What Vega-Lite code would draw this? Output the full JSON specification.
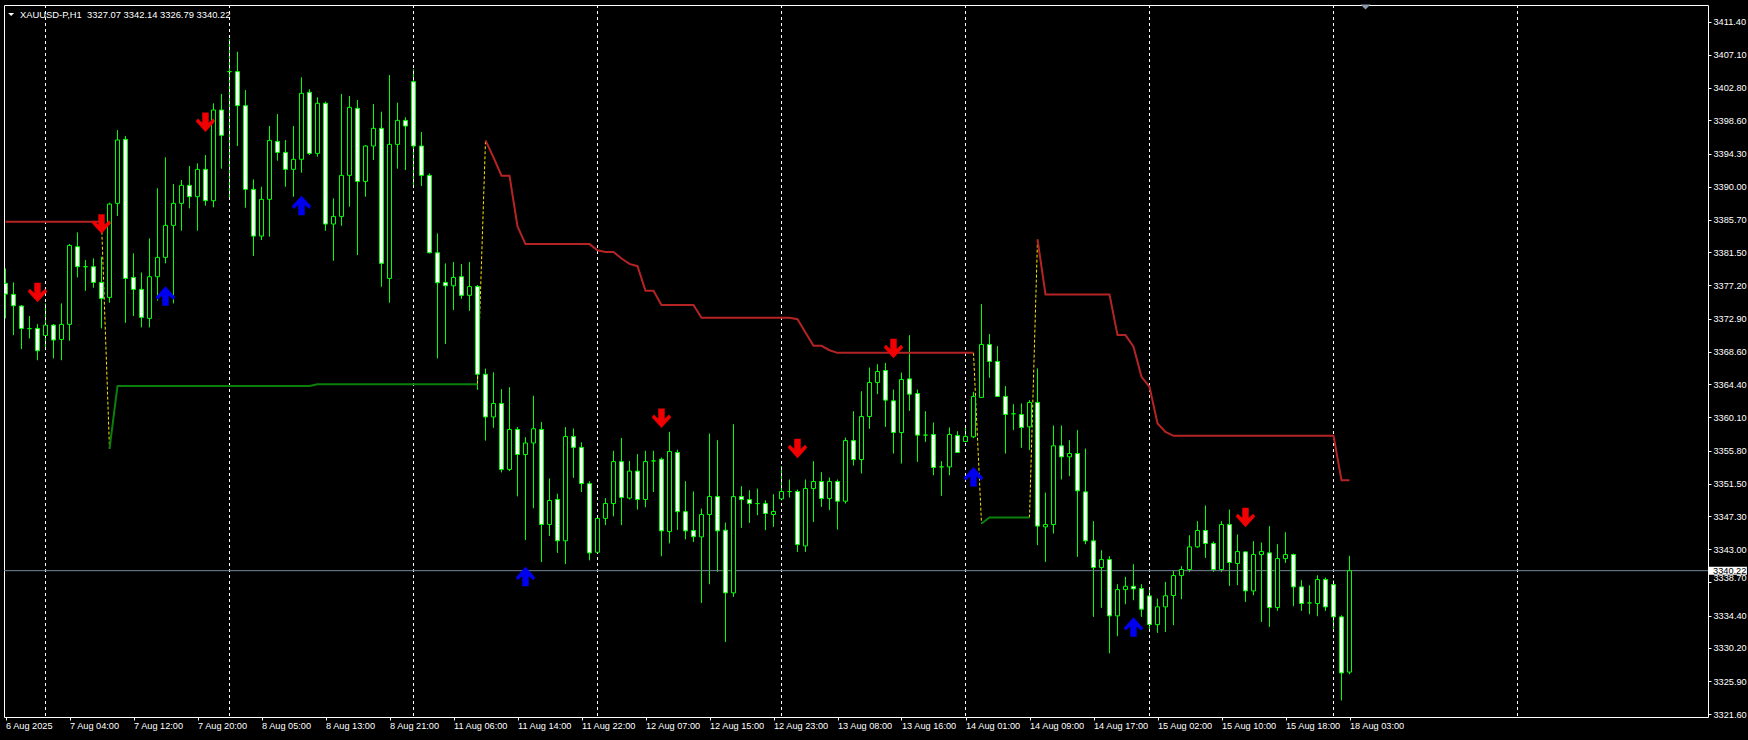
{
  "$schema": "https://vega.github.io/schema/vega-lite/v6.json",
  "width": 1704,
  "height": 712,
  "autosize": {"type": "none"},
  "padding": {"left": 4, "top": 5, "right": 40, "bottom": 23},
  "background": "#000000",
  "config": {"view": {"stroke": "#FFFFFF", "strokeWidth": 1}, "font": "Liberation Sans"},
  "title": {"text": "XAUUSD-P,H1\u00a0 3327.07 3342.14 3326.79 3340.22", "anchor": "start", "frame": "group", "orient": "top", "offset": 0, "dx": 16, "dy": 20, "baseline": "middle", "color": "#FFFFFF", "font": "Liberation Sans", "fontSize": 9.4, "fontWeight": "normal"},
  "resolve": {"axis": {"x": "independent", "y": "independent"}},
  "datasets": {
    "bars": [
      {"i":0,"o":3377.47,"h":3379.41,"l":3372.92,"c":3376.08},
      {"i":1,"o":3376.04,"h":3377.59,"l":3370.76,"c":3374.57},
      {"i":2,"o":3374.53,"h":3374.66,"l":3368.95,"c":3371.63},
      {"i":3,"o":3371.6,"h":3373.23,"l":3370.33,"c":3371.6},
      {"i":4,"o":3371.63,"h":3372.19,"l":3367.5,"c":3368.73},
      {"i":5,"o":3370.72,"h":3374.87,"l":3368.82,"c":3372.06},
      {"i":6,"o":3372.06,"h":3372.2,"l":3367.74,"c":3370.12},
      {"i":7,"o":3370.2,"h":3374.87,"l":3367.5,"c":3372.15},
      {"i":8,"o":3372.15,"h":3382.57,"l":3370.03,"c":3382.39},
      {"i":9,"o":3382.22,"h":3384.08,"l":3378.24,"c":3379.63},
      {"i":10,"o":3379.63,"h":3380.49,"l":3376.51,"c":3379.63},
      {"i":11,"o":3379.63,"h":3380.71,"l":3376.9,"c":3377.59},
      {"i":12,"o":3377.59,"h":3380.92,"l":3371.63,"c":3375.52},
      {"i":13,"o":3375.65,"h":3387.93,"l":3374.96,"c":3387.75},
      {"i":14,"o":3387.84,"h":3397.35,"l":3386.2,"c":3396.06},
      {"i":15,"o":3396.14,"h":3396.57,"l":3372.36,"c":3378.11},
      {"i":16,"o":3378.24,"h":3381.36,"l":3373.23,"c":3376.69},
      {"i":17,"o":3376.69,"h":3378.89,"l":3371.76,"c":3373.06},
      {"i":18,"o":3372.93,"h":3383.3,"l":3371.76,"c":3378.33},
      {"i":19,"o":3378.33,"h":3389.79,"l":3375.22,"c":3380.84},
      {"i":20,"o":3380.84,"h":3393.81,"l":3380.06,"c":3384.99},
      {"i":21,"o":3384.99,"h":3390.35,"l":3374.87,"c":3387.84},
      {"i":22,"o":3387.84,"h":3390.87,"l":3384.3,"c":3390.18},
      {"i":23,"o":3390.18,"h":3392.68,"l":3387.19,"c":3388.71},
      {"i":24,"o":3388.71,"h":3393.03,"l":3384.3,"c":3392.25},
      {"i":25,"o":3392.25,"h":3394.11,"l":3387.54,"c":3388.19},
      {"i":26,"o":3388.19,"h":3400.81,"l":3387.32,"c":3399.95},
      {"i":27,"o":3399.95,"h":3402.02,"l":3392.34,"c":3396.66},
      {"i":28,"o":3404.92,"h":3409.16,"l":3388.45,"c":3404.92},
      {"i":29,"o":3404.92,"h":3407.51,"l":3395.28,"c":3400.51},
      {"i":30,"o":3400.51,"h":3402.54,"l":3387.28,"c":3389.66},
      {"i":31,"o":3389.66,"h":3390.95,"l":3381.01,"c":3383.6},
      {"i":32,"o":3383.6,"h":3390.0,"l":3383.08,"c":3388.36},
      {"i":33,"o":3388.36,"h":3397.87,"l":3383.52,"c":3396.01},
      {"i":34,"o":3395.88,"h":3399.43,"l":3393.37,"c":3394.45},
      {"i":35,"o":3394.45,"h":3396.05,"l":3390.0,"c":3392.25},
      {"i":36,"o":3392.25,"h":3397.87,"l":3388.7,"c":3393.55},
      {"i":37,"o":3393.55,"h":3404.18,"l":3391.82,"c":3402.11},
      {"i":38,"o":3402.24,"h":3402.63,"l":3394.11,"c":3394.32},
      {"i":39,"o":3394.32,"h":3401.59,"l":3393.89,"c":3400.81},
      {"i":40,"o":3400.81,"h":3401.03,"l":3384.29,"c":3385.16},
      {"i":41,"o":3385.16,"h":3388.49,"l":3380.4,"c":3386.15},
      {"i":42,"o":3386.15,"h":3402.02,"l":3384.94,"c":3391.47},
      {"i":43,"o":3391.47,"h":3401.76,"l":3387.41,"c":3400.29},
      {"i":44,"o":3400.16,"h":3401.24,"l":3381.14,"c":3390.69},
      {"i":45,"o":3390.69,"h":3395.4,"l":3388.7,"c":3395.28},
      {"i":46,"o":3395.28,"h":3400.72,"l":3393.46,"c":3397.57},
      {"i":47,"o":3397.57,"h":3399.73,"l":3377.03,"c":3380.06},
      {"i":48,"o":3378.11,"h":3404.48,"l":3374.96,"c":3395.49},
      {"i":49,"o":3395.49,"h":3400.9,"l":3392.34,"c":3398.6},
      {"i":50,"o":3398.6,"h":3399.0,"l":3392.16,"c":3397.87},
      {"i":51,"o":3403.62,"h":3405.22,"l":3390.0,"c":3395.28},
      {"i":52,"o":3395.28,"h":3397.09,"l":3390.09,"c":3391.47},
      {"i":53,"o":3391.47,"h":3391.73,"l":3381.36,"c":3381.44},
      {"i":54,"o":3381.44,"h":3383.95,"l":3367.74,"c":3377.55},
      {"i":55,"o":3377.59,"h":3380.06,"l":3369.6,"c":3377.16},
      {"i":56,"o":3377.16,"h":3380.23,"l":3374.0,"c":3378.24},
      {"i":57,"o":3378.33,"h":3379.97,"l":3375.47,"c":3375.91},
      {"i":58,"o":3375.91,"h":3380.23,"l":3373.9,"c":3377.05},
      {"i":59,"o":3377.08,"h":3377.25,"l":3363.66,"c":3365.68},
      {"i":60,"o":3365.68,"h":3366.42,"l":3357.08,"c":3360.15},
      {"i":61,"o":3360.15,"h":3365.94,"l":3358.75,"c":3361.9},
      {"i":62,"o":3361.9,"h":3363.75,"l":3352.96,"c":3353.35},
      {"i":63,"o":3353.35,"h":3364.01,"l":3353.13,"c":3358.53},
      {"i":64,"o":3358.53,"h":3358.84,"l":3349.85,"c":3355.28},
      {"i":65,"o":3355.28,"h":3357.52,"l":3344.19,"c":3356.77},
      {"i":66,"o":3356.77,"h":3362.91,"l":3348.31,"c":3358.62},
      {"i":67,"o":3358.53,"h":3359.49,"l":3341.34,"c":3346.21},
      {"i":68,"o":3346.21,"h":3352.17,"l":3344.72,"c":3349.32},
      {"i":69,"o":3349.45,"h":3350.2,"l":3342.52,"c":3344.1},
      {"i":70,"o":3344.1,"h":3358.84,"l":3341.08,"c":3357.61},
      {"i":71,"o":3357.61,"h":3358.66,"l":3352.26,"c":3356.2},
      {"i":72,"o":3356.2,"h":3356.86,"l":3350.42,"c":3351.51},
      {"i":73,"o":3351.51,"h":3351.82,"l":3341.56,"c":3342.52},
      {"i":74,"o":3342.61,"h":3347.0,"l":3342.4,"c":3347.0},
      {"i":75,"o":3347.0,"h":3349.63,"l":3346.12,"c":3348.93},
      {"i":76,"o":3348.93,"h":3355.77,"l":3347.26,"c":3354.36},
      {"i":77,"o":3354.36,"h":3357.43,"l":3346.12,"c":3349.72},
      {"i":78,"o":3349.63,"h":3354.45,"l":3349.45,"c":3353.13},
      {"i":79,"o":3353.13,"h":3355.33,"l":3348.14,"c":3349.45},
      {"i":80,"o":3349.45,"h":3355.77,"l":3348.44,"c":3354.36},
      {"i":81,"o":3354.45,"h":3355.77,"l":3350.42,"c":3354.45},
      {"i":82,"o":3354.67,"h":3354.89,"l":3342.09,"c":3345.38},
      {"i":83,"o":3345.29,"h":3358.22,"l":3343.75,"c":3355.68},
      {"i":84,"o":3355.55,"h":3355.9,"l":3345.51,"c":3347.87},
      {"i":85,"o":3347.87,"h":3351.82,"l":3344.28,"c":3345.38},
      {"i":86,"o":3345.42,"h":3350.5,"l":3343.93,"c":3344.63},
      {"i":87,"o":3344.6,"h":3348.27,"l":3336.04,"c":3347.5},
      {"i":88,"o":3347.5,"h":3358.0,"l":3338.46,"c":3349.83},
      {"i":89,"o":3349.83,"h":3357.14,"l":3340.06,"c":3345.38},
      {"i":90,"o":3345.47,"h":3346.46,"l":3330.98,"c":3337.34},
      {"i":91,"o":3337.34,"h":3359.21,"l":3336.82,"c":3349.83},
      {"i":92,"o":3349.83,"h":3351.17,"l":3345.77,"c":3349.44},
      {"i":93,"o":3349.44,"h":3350.65,"l":3346.42,"c":3348.92},
      {"i":94,"o":3348.92,"h":3350.87,"l":3347.41,"c":3348.92},
      {"i":95,"o":3348.92,"h":3349.35,"l":3345.47,"c":3347.63},
      {"i":96,"o":3347.5,"h":3350.13,"l":3345.9,"c":3347.89},
      {"i":97,"o":3349.53,"h":3353.76,"l":3349.35,"c":3350.48},
      {"i":98,"o":3350.48,"h":3352.04,"l":3349.7,"c":3350.48},
      {"i":99,"o":3350.48,"h":3350.74,"l":3342.65,"c":3343.6},
      {"i":100,"o":3343.43,"h":3352.04,"l":3342.65,"c":3350.87},
      {"i":101,"o":3350.87,"h":3354.41,"l":3346.54,"c":3351.78},
      {"i":102,"o":3351.78,"h":3352.99,"l":3348.49,"c":3349.57},
      {"i":103,"o":3349.57,"h":3352.3,"l":3348.06,"c":3351.78},
      {"i":104,"o":3351.78,"h":3352.04,"l":3345.55,"c":3349.22},
      {"i":105,"o":3349.22,"h":3357.48,"l":3348.92,"c":3357.09},
      {"i":106,"o":3357.09,"h":3360.9,"l":3353.85,"c":3354.63},
      {"i":107,"o":3354.63,"h":3363.49,"l":3352.82,"c":3360.21},
      {"i":108,"o":3360.21,"h":3366.56,"l":3358.61,"c":3364.62},
      {"i":109,"o":3364.62,"h":3366.99,"l":3363.1,"c":3366.04},
      {"i":110,"o":3366.17,"h":3367.17,"l":3358.87,"c":3362.33},
      {"i":111,"o":3362.24,"h":3363.71,"l":3355.41,"c":3358.13},
      {"i":112,"o":3358.13,"h":3365.91,"l":3354.11,"c":3365.0},
      {"i":113,"o":3365.09,"h":3370.76,"l":3360.94,"c":3363.1},
      {"i":114,"o":3363.19,"h":3363.71,"l":3354.33,"c":3357.79},
      {"i":115,"o":3357.8,"h":3360.9,"l":3356.92,"c":3357.8},
      {"i":116,"o":3357.87,"h":3359.43,"l":3352.6,"c":3353.6},
      {"i":117,"o":3353.68,"h":3354.42,"l":3349.92,"c":3353.68},
      {"i":118,"o":3353.68,"h":3358.79,"l":3352.6,"c":3357.88},
      {"i":119,"o":3357.75,"h":3358.31,"l":3355.5,"c":3355.54},
      {"i":120,"o":3356.97,"h":3359.09,"l":3356.97,"c":3357.62},
      {"i":121,"o":3357.58,"h":3363.41,"l":3357.4,"c":3362.81},
      {"i":122,"o":3362.68,"h":3374.78,"l":3362.68,"c":3369.55},
      {"i":123,"o":3369.55,"h":3370.89,"l":3365.23,"c":3367.35},
      {"i":124,"o":3367.35,"h":3369.33,"l":3362.81,"c":3362.81},
      {"i":125,"o":3362.81,"h":3364.15,"l":3355.41,"c":3360.47},
      {"i":126,"o":3360.56,"h":3361.81,"l":3358.44,"c":3360.56},
      {"i":127,"o":3360.47,"h":3361.9,"l":3356.15,"c":3358.79},
      {"i":128,"o":3358.87,"h":3362.33,"l":3355.85,"c":3362.03},
      {"i":129,"o":3362.03,"h":3366.44,"l":3343.52,"c":3346.0},
      {"i":130,"o":3345.9,"h":3350.35,"l":3341.36,"c":3346.2},
      {"i":131,"o":3346.2,"h":3359.04,"l":3345.04,"c":3356.41},
      {"i":132,"o":3356.41,"h":3359.04,"l":3352.04,"c":3354.98},
      {"i":133,"o":3354.98,"h":3357.14,"l":3352.47,"c":3355.41},
      {"i":134,"o":3355.41,"h":3358.44,"l":3342.01,"c":3350.57},
      {"i":135,"o":3350.44,"h":3356.06,"l":3343.65,"c":3344.09},
      {"i":136,"o":3344.09,"h":3346.64,"l":3334.23,"c":3340.63},
      {"i":137,"o":3340.63,"h":3342.87,"l":3335.4,"c":3341.66},
      {"i":138,"o":3341.66,"h":3342.1,"l":3329.5,"c":3334.36},
      {"i":139,"o":3334.36,"h":3338.47,"l":3331.72,"c":3337.77},
      {"i":140,"o":3337.77,"h":3339.42,"l":3335.87,"c":3338.2},
      {"i":141,"o":3338.2,"h":3341.06,"l":3336.39,"c":3337.86},
      {"i":142,"o":3337.9,"h":3338.47,"l":3334.23,"c":3335.22},
      {"i":143,"o":3336.95,"h":3337.69,"l":3332.5,"c":3333.23},
      {"i":144,"o":3333.23,"h":3336.61,"l":3332.15,"c":3335.53},
      {"i":145,"o":3335.53,"h":3338.77,"l":3332.28,"c":3336.97},
      {"i":146,"o":3337.0,"h":3340.2,"l":3333.15,"c":3339.59},
      {"i":147,"o":3339.59,"h":3340.8,"l":3336.52,"c":3340.37},
      {"i":148,"o":3340.37,"h":3344.82,"l":3340.06,"c":3343.31},
      {"i":149,"o":3343.31,"h":3346.64,"l":3343.18,"c":3345.43},
      {"i":150,"o":3345.43,"h":3348.67,"l":3341.88,"c":3343.74},
      {"i":151,"o":3343.74,"h":3344.0,"l":3340.06,"c":3340.37},
      {"i":152,"o":3340.37,"h":3346.64,"l":3340.06,"c":3346.2},
      {"i":153,"o":3346.2,"h":3348.15,"l":3338.25,"c":3341.28},
      {"i":154,"o":3341.15,"h":3344.91,"l":3338.33,"c":3342.7},
      {"i":155,"o":3342.66,"h":3342.66,"l":3336.17,"c":3337.6},
      {"i":156,"o":3337.6,"h":3344.04,"l":3337.04,"c":3342.31},
      {"i":157,"o":3342.31,"h":3343.87,"l":3333.58,"c":3342.7},
      {"i":158,"o":3342.53,"h":3345.99,"l":3332.93,"c":3335.44},
      {"i":159,"o":3335.44,"h":3343.65,"l":3335.01,"c":3341.79},
      {"i":160,"o":3341.79,"h":3345.21,"l":3341.23,"c":3342.31},
      {"i":161,"o":3342.31,"h":3342.44,"l":3335.61,"c":3338.12},
      {"i":162,"o":3338.12,"h":3338.98,"l":3335.01,"c":3335.96},
      {"i":163,"o":3336.04,"h":3338.33,"l":3334.57,"c":3336.04},
      {"i":164,"o":3335.96,"h":3339.63,"l":3334.31,"c":3339.07},
      {"i":165,"o":3339.07,"h":3339.33,"l":3335.01,"c":3335.52},
      {"i":166,"o":3338.42,"h":3338.98,"l":3332.71,"c":3334.23},
      {"i":167,"o":3334.23,"h":3334.44,"l":3323.4,"c":3326.96},
      {"i":168,"o":3327.07,"h":3342.14,"l":3326.79,"c":3340.22}
    ],
    "ind": [
      {"seg":"r1","k":"res","i":0,"v":3385.46},{"seg":"r1","k":"res","i":12,"v":3385.46},
      {"seg":"y1","k":"lnk","i":12,"v":3385.46},{"seg":"y1","k":"lnk","i":13,"v":3356.0},
      {"seg":"g1","k":"sup","i":13,"v":3356.0},{"seg":"g1","k":"sup","i":14,"v":3364.18},{"seg":"g1","k":"sup","i":38,"v":3364.18},{"seg":"g1","k":"sup","i":39,"v":3364.4},{"seg":"g1","k":"sup","i":59,"v":3364.4},
      {"seg":"y2","k":"lnk","i":59,"v":3364.4},{"seg":"y2","k":"lnk","i":60,"v":3396.0},
      {"seg":"r2","k":"res","i":60,"v":3396.0},{"seg":"r2","k":"res","i":61,"v":3393.8},{"seg":"r2","k":"res","i":62,"v":3391.42},{"seg":"r2","k":"res","i":63,"v":3391.42},{"seg":"r2","k":"res","i":64,"v":3384.84},{"seg":"r2","k":"res","i":65,"v":3382.56},{"seg":"r2","k":"res","i":73,"v":3382.56},{"seg":"r2","k":"res","i":74,"v":3381.75},{"seg":"r2","k":"res","i":75,"v":3381.55},{"seg":"r2","k":"res","i":76,"v":3381.55},{"seg":"r2","k":"res","i":77,"v":3380.7},{"seg":"r2","k":"res","i":78,"v":3380.0},{"seg":"r2","k":"res","i":79,"v":3379.7},{"seg":"r2","k":"res","i":80,"v":3376.5},{"seg":"r2","k":"res","i":81,"v":3376.5},{"seg":"r2","k":"res","i":82,"v":3374.67},{"seg":"r2","k":"res","i":86,"v":3374.67},{"seg":"r2","k":"res","i":87,"v":3373.0},{"seg":"r2","k":"res","i":98,"v":3373.0},{"seg":"r2","k":"res","i":99,"v":3372.83},{"seg":"r2","k":"res","i":100,"v":3371.1},{"seg":"r2","k":"res","i":101,"v":3369.37},{"seg":"r2","k":"res","i":102,"v":3369.37},{"seg":"r2","k":"res","i":103,"v":3368.8},{"seg":"r2","k":"res","i":104,"v":3368.46},{"seg":"r2","k":"res","i":121,"v":3368.46},
      {"seg":"y3","k":"lnk","i":121,"v":3368.46},{"seg":"y3","k":"lnk","i":122,"v":3346.33},
      {"seg":"g2","k":"sup","i":122,"v":3346.33},{"seg":"g2","k":"sup","i":123,"v":3347.11},{"seg":"g2","k":"sup","i":128,"v":3347.11},
      {"seg":"y4","k":"lnk","i":128,"v":3347.11},{"seg":"y4","k":"lnk","i":129,"v":3383.17},
      {"seg":"r3","k":"res","i":129,"v":3383.17},{"seg":"r3","k":"res","i":130,"v":3376.04},{"seg":"r3","k":"res","i":138,"v":3376.04},{"seg":"r3","k":"res","i":139,"v":3370.76},{"seg":"r3","k":"res","i":140,"v":3370.76},{"seg":"r3","k":"res","i":141,"v":3369.25},{"seg":"r3","k":"res","i":142,"v":3365.36},{"seg":"r3","k":"res","i":143,"v":3364.06},{"seg":"r3","k":"res","i":144,"v":3359.3},{"seg":"r3","k":"res","i":145,"v":3358.22},{"seg":"r3","k":"res","i":146,"v":3357.7},{"seg":"r3","k":"res","i":166,"v":3357.7},{"seg":"r3","k":"res","i":167,"v":3351.95},{"seg":"r3","k":"res","i":168,"v":3351.95}
    ],
    "arrows": [
      {"i":4,"p":3376.28,"d":"dn"},{"i":12,"p":3385.16,"d":"dn"},{"i":25,"p":3398.35,"d":"dn"},{"i":82,"p":3359.98,"d":"dn"},{"i":99,"p":3356.06,"d":"dn"},{"i":111,"p":3369.03,"d":"dn"},{"i":155,"p":3347.11,"d":"dn"},
      {"i":20,"p":3375.82,"d":"up"},{"i":37,"p":3387.58,"d":"up"},{"i":65,"p":3339.46,"d":"up"},{"i":121,"p":3352.39,"d":"up"},{"i":141,"p":3332.93,"d":"up"}
    ],
    "days": [{"i":5},{"i":28},{"i":51},{"i":74},{"i":97},{"i":120},{"i":143},{"i":166},{"i":189}],
    "last": [{"p":3340.22}]
  },
  "layer": [
    {
      "data": {"name": "bars"},
      "mark": {"type": "rule", "color": "#00FF00", "strokeWidth": 1, "clip": true},
      "encoding": {
        "x": {"field": "i", "type": "quantitative", "scale": {"domain": [-0.1875, 212.8125], "nice": false, "zero": false, "padding": 0},
          "axis": {"values": [0,8,16,24,32,40,48,56,64,72,80,88,96,104,112,120,128,136,144,152,160,168],
            "labelExpr": "['6 Aug 2025','7 Aug 04:00','7 Aug 12:00','7 Aug 20:00','8 Aug 05:00','8 Aug 13:00','8 Aug 21:00','11 Aug 06:00','11 Aug 14:00','11 Aug 22:00','12 Aug 07:00','12 Aug 15:00','12 Aug 23:00','13 Aug 08:00','13 Aug 16:00','14 Aug 01:00','14 Aug 09:00','14 Aug 17:00','15 Aug 02:00','15 Aug 10:00','15 Aug 18:00','18 Aug 03:00'][round(datum.value/8)]",
            "labelAlign": "left", "labelBaseline": "top", "labelPadding": 1, "tickSize": 3, "tickColor": "#FFFFFF", "labelColor": "#FFFFFF",
            "labelFont": "Liberation Sans", "labelFontSize": 9.2, "domain": false, "grid": false, "title": null,
            "labelFlush": false, "labelOverlap": false, "labelBound": false}},
        "y": {"field": "l", "type": "quantitative", "scale": {"domain": [3321.25, 3413.56], "nice": false, "zero": false},
          "axis": {"orient": "right", "values": [3321.6,3325.9,3330.2,3334.4,3338.7,3343,3347.3,3351.5,3355.8,3360.1,3364.4,3368.6,3372.9,3377.2,3381.5,3385.7,3390,3394.3,3398.6,3402.8,3407.1,3411.4],
            "format": ".2f", "labelAlign": "left", "labelBaseline": "middle", "labelPadding": 2, "tickSize": 3, "tickColor": "#FFFFFF", "labelColor": "#FFFFFF",
            "labelFont": "Liberation Sans", "labelFontSize": 9.2, "domain": false, "grid": false, "title": null,
            "labelFlush": false, "labelOverlap": false, "labelBound": false,
            "labelOffset": {"condition": {"test": "abs(datum.value - 3338.7) < 0.01", "value": -5}, "value": 0}}},
        "y2": {"field": "h"}
      }
    },
    {
      "data": {"name": "days"},
      "mark": {"type": "rule", "color": "#FFFFFF", "strokeWidth": 1, "strokeDash": [3, 3]},
      "encoding": {
        "x": {"field": "i", "type": "quantitative", "axis": null}
      }
    },
    {
      "data": {"name": "last"},
      "mark": {"type": "rule", "color": "#778899", "strokeWidth": 1},
      "encoding": {
        "y": {"field": "p", "type": "quantitative", "axis": null}
      }
    },
    {
      "data": {"name": "ind"},
      "transform": [{"filter": "datum.k == 'lnk'"}],
      "mark": {"type": "line", "color": "#FFE600", "strokeWidth": 1, "strokeDash": [3, 2]},
      "encoding": {
        "x": {"field": "i", "type": "quantitative", "axis": null},
        "y": {"field": "v", "type": "quantitative", "axis": null},
        "detail": {"field": "seg"}
      }
    },
    {
      "data": {"name": "ind"},
      "transform": [{"filter": "datum.k == 'res'"}],
      "mark": {"type": "line", "color": "#B42424", "strokeWidth": 2},
      "encoding": {
        "x": {"field": "i", "type": "quantitative", "axis": null},
        "y": {"field": "v", "type": "quantitative", "axis": null},
        "detail": {"field": "seg"}
      }
    },
    {
      "data": {"name": "ind"},
      "transform": [{"filter": "datum.k == 'sup'"}],
      "mark": {"type": "line", "color": "#0A800A", "strokeWidth": 2},
      "encoding": {
        "x": {"field": "i", "type": "quantitative", "axis": null},
        "y": {"field": "v", "type": "quantitative", "axis": null},
        "detail": {"field": "seg"}
      }
    },
    {
      "data": {"name": "bars"},
      "mark": {"type": "bar", "width": 4, "stroke": "#00FF00", "strokeWidth": 1, "clip": true},
      "encoding": {
        "x": {"field": "i", "type": "quantitative", "axis": null},
        "y": {"field": "o", "type": "quantitative", "axis": null},
        "y2": {"field": "c"},
        "fill": {"condition": {"test": "datum.c < datum.o", "value": "#FFFFFF"}, "value": "#000000"}
      }
    },
    {
      "data": {"name": "arrows"},
      "transform": [{"filter": "datum.d == 'dn'"}],
      "mark": {"type": "point", "filled": true, "opacity": 1, "color": "#F00000", "size": 380,
        "shape": "M-0.33,-1L0.33,-1L0.33,0.05L0.78,-0.38L1,-0.1L0,1L-1,-0.1L-0.78,-0.38L-0.33,0.05Z"},
      "encoding": {
        "x": {"field": "i", "type": "quantitative", "axis": null},
        "y": {"field": "p", "type": "quantitative", "axis": null}
      }
    },
    {
      "data": {"name": "arrows"},
      "transform": [{"filter": "datum.d == 'up'"}],
      "mark": {"type": "point", "filled": true, "opacity": 1, "color": "#0000F0", "size": 380,
        "shape": "M-0.33,1L0.33,1L0.33,-0.05L0.78,0.38L1,0.1L0,-1L-1,0.1L-0.78,0.38L-0.33,-0.05Z"},
      "encoding": {
        "x": {"field": "i", "type": "quantitative", "axis": null},
        "y": {"field": "p", "type": "quantitative", "axis": null}
      }
    },
    {
      "data": {"name": "last"},
      "mark": {"type": "point", "filled": true, "opacity": 1, "color": "#FFFFFF", "size": 1444,
        "shape": "M-1,-0.21L1,-0.21L1,0.21L-1,0.21Z"},
      "encoding": {
        "x": {"datum": 215.3, "type": "quantitative", "axis": null},
        "y": {"field": "p", "type": "quantitative", "axis": null}
      }
    },
    {
      "data": {"name": "last"},
      "mark": {"type": "text", "color": "#000000", "align": "left", "baseline": "middle", "font": "Liberation Sans", "fontSize": 9.2},
      "encoding": {
        "x": {"datum": 213.45, "type": "quantitative", "axis": null},
        "y": {"field": "p", "type": "quantitative", "axis": null},
        "text": {"field": "p", "type": "quantitative", "format": ".2f"}
      }
    },
    {
      "data": {"values": [{"m": "title"}]},
      "mark": {"type": "point", "filled": true, "opacity": 1, "color": "#FFFFFF", "size": 36, "shape": "M-1,-0.5L1,-0.5L0,0.5Z"},
      "encoding": {
        "x": {"datum": 0.7, "type": "quantitative", "axis": null},
        "y": {"datum": 3412.33, "type": "quantitative", "axis": null}
      }
    },
    {
      "data": {"values": [{"m": "shift"}]},
      "mark": {"type": "point", "filled": true, "opacity": 1, "color": "#8A9AAA", "size": 100, "shape": "M-1,-0.5L1,-0.5L0,0.5Z"},
      "encoding": {
        "x": {"datum": 170, "type": "quantitative", "axis": null},
        "y": {"datum": 3413.3, "type": "quantitative", "axis": null}
      }
    }
  ]
}
